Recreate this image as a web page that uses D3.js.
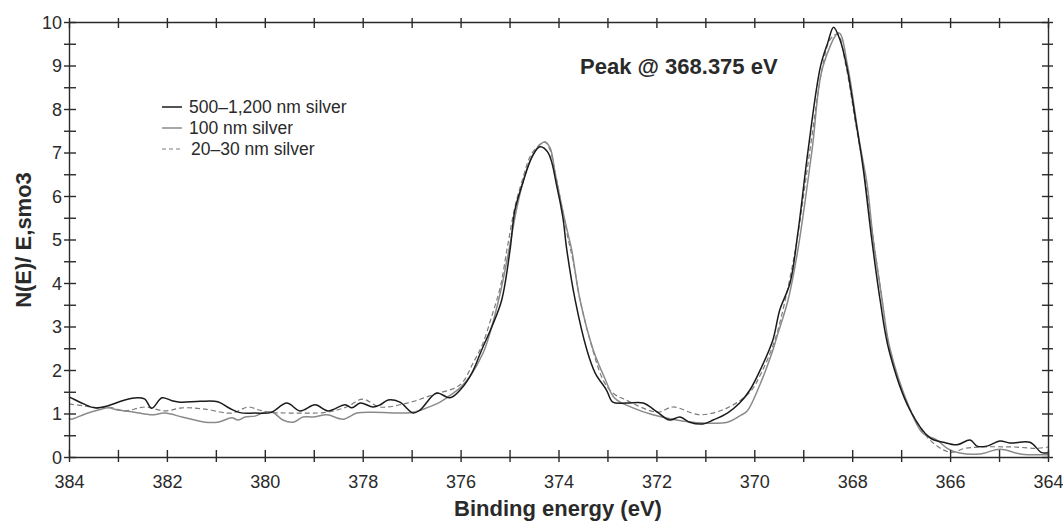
<!DOCTYPE html>
<html>
<head>
<meta charset="utf-8">
<script src="https://cdn.jsdelivr.net/npm/d3@7"></script>
<style>
  body { margin: 0; background: #fff; }
  svg { font-family: "Liberation Sans", Arial, sans-serif; }
  .axis path, .axis line { stroke: #2a2a2a; stroke-width: 1.4; }
  .axis text { font-size: 18px; fill: #2a2a2a; }
</style>
</head>
<body>
<div id="chart"></div>
<script>
// XPS Ag 3d spectra: [binding energy (eV), N(E)]
const seriesNames = ["500–1,200 nm silver", "100 nm silver", "20–30 nm silver"]

const silver500 = [
  [384.00, 1.38], [383.96, 1.36], [383.70, 1.22], [383.47, 1.13], [383.20, 1.18],
  [382.86, 1.31], [382.61, 1.36], [382.45, 1.33], [382.31, 1.12], [382.10, 1.36],
  [381.91, 1.30], [381.73, 1.26], [381.32, 1.28], [380.96, 1.27], [380.72, 1.12],
  [380.51, 1.02], [380.20, 1.01], [379.88, 1.02], [379.55, 1.24], [379.28, 1.06],
  [378.97, 1.20], [378.71, 1.06], [378.36, 1.20], [378.22, 1.13], [378.05, 1.24],
  [377.79, 1.15], [377.64, 1.20], [377.48, 1.31], [377.24, 1.26], [376.97, 1.01],
  [376.83, 1.08], [376.49, 1.47], [376.22, 1.36], [376.01, 1.54], [375.77, 1.93],
  [375.57, 2.46], [375.36, 3.00], [375.16, 3.61], [374.99, 4.76], [374.89, 5.68],
  [374.73, 6.30], [374.54, 6.90], [374.38, 7.13], [374.21, 6.99], [374.03, 6.20],
  [373.91, 5.50], [373.83, 4.76], [373.66, 3.61], [373.42, 2.46], [373.25, 1.93],
  [373.02, 1.54], [372.89, 1.26], [372.60, 1.24], [372.27, 1.24], [371.98, 1.03],
  [371.73, 0.85], [371.52, 0.92], [371.32, 0.80], [371.05, 0.76], [370.84, 0.85],
  [370.55, 1.01], [370.30, 1.24], [370.09, 1.54], [369.85, 2.07], [369.62, 2.69],
  [369.48, 3.38], [369.27, 4.00], [369.11, 5.15], [368.90, 7.06], [368.65, 8.97],
  [368.50, 9.52], [368.38, 9.88], [368.25, 9.59], [368.11, 8.97], [367.94, 7.82],
  [367.78, 6.67], [367.60, 5.00], [367.43, 3.61], [367.25, 2.46], [366.82, 1.08],
  [366.41, 0.44], [366.14, 0.34], [365.86, 0.28], [365.59, 0.39], [365.45, 0.25],
  [365.25, 0.25], [364.98, 0.37], [364.78, 0.32], [364.37, 0.34], [364.13, 0.10],
  [364.00, 0.10]
]

const silver100 = [
  [384.00, 0.90], [383.96, 0.87], [383.67, 0.99], [383.40, 1.08], [383.20, 1.13],
  [383.00, 1.08], [382.66, 1.03], [382.31, 0.97], [382.04, 1.01], [381.69, 0.92],
  [381.22, 0.80], [380.96, 0.80], [380.67, 0.90], [380.55, 0.85], [380.40, 0.92],
  [380.20, 0.94], [380.00, 1.03], [379.84, 1.03], [379.63, 0.85], [379.42, 0.80],
  [379.22, 0.92], [379.01, 0.92], [378.73, 0.97], [378.40, 0.87], [378.12, 1.01],
  [377.79, 1.03], [377.38, 1.01], [376.97, 1.03], [376.69, 1.13], [376.42, 1.26],
  [376.15, 1.47], [376.01, 1.59], [375.81, 1.85], [375.54, 2.39], [375.40, 2.85],
  [375.19, 3.77], [375.00, 4.83], [374.83, 5.84], [374.63, 6.67], [374.44, 7.10],
  [374.28, 7.24], [374.17, 7.10], [374.07, 6.53], [373.93, 5.75], [373.80, 5.10],
  [373.73, 4.76], [373.56, 3.61], [373.29, 2.46], [373.05, 1.80], [372.85, 1.35],
  [372.48, 1.13], [372.07, 0.97], [371.59, 0.85], [371.05, 0.78], [370.55, 0.80],
  [370.29, 0.95], [370.15, 1.05], [369.89, 1.65], [369.62, 2.46], [369.54, 2.76],
  [369.31, 3.61], [369.11, 4.76], [368.82, 7.06], [368.60, 8.97], [368.27, 9.75],
  [368.09, 8.97], [367.86, 7.30], [367.70, 6.30], [367.57, 5.00], [367.40, 3.70],
  [367.23, 2.50], [366.82, 1.10], [366.56, 0.55], [366.27, 0.39], [366.06, 0.20],
  [365.80, 0.09], [365.39, 0.07], [364.98, 0.18], [364.57, 0.07], [364.00, 0.05]
]

const silver20 = [
  [384.00, 1.22], [383.67, 1.17], [383.40, 1.13], [383.20, 1.15], [382.86, 1.06],
  [382.45, 1.15], [382.04, 1.06], [381.69, 1.13], [381.22, 1.10], [380.67, 1.01],
  [380.34, 1.15], [380.12, 1.08], [379.91, 1.03], [379.42, 1.01], [378.73, 1.03],
  [378.33, 1.15], [378.00, 1.33], [377.65, 1.15], [377.09, 1.24], [376.57, 1.43],
  [376.01, 1.66], [375.75, 2.15], [375.55, 2.60], [375.36, 3.25], [375.19, 3.90],
  [375.04, 4.85], [374.89, 5.75], [374.73, 6.40], [374.56, 6.95], [374.36, 7.20],
  [374.27, 7.24], [374.17, 7.05], [374.07, 6.55], [373.93, 5.75], [373.80, 5.00],
  [373.70, 4.50], [373.56, 3.61], [373.30, 2.46], [373.08, 1.75], [372.89, 1.47],
  [372.62, 1.31], [371.98, 1.03], [371.66, 1.15], [371.11, 0.97], [370.55, 1.13],
  [370.09, 1.49], [369.85, 1.95], [369.59, 2.65], [369.39, 3.50], [369.14, 4.90],
  [368.87, 7.00], [368.61, 8.95], [368.45, 9.60], [368.30, 9.72], [368.13, 9.00],
  [367.92, 7.60], [367.75, 6.50], [367.58, 5.10], [367.40, 3.70], [367.24, 2.50],
  [366.82, 1.10], [366.41, 0.39], [366.00, 0.11], [365.69, 0.20], [365.39, 0.23],
  [364.71, 0.23], [364.23, 0.20], [364.00, 0.23]
]

const xTicks = d3.range(364, 385, 1)
const yTicks = d3.range(0, 10.01, 0.5)
const peakNote = "Peak @ 368.375 eV"

const W = 1063, H = 525
const svg = d3.select("#chart").append("svg")
  .attr("width", W).attr("height", H)

const x = d3.scaleLinear().domain([384, 364]).range([69, 1048])
const y = d3.scaleLinear().domain([0, 10]).range([457, 22])

// curves first, axes drawn on top
const line = d3.line()
  .x(d => x(d[0]))
  .y(d => y(d[1]))
  .curve(d3.curveCatmullRom.alpha(0.5))

const styles = [
  { color: "#1b1b1b", width: 1.5, dash: null },
  { color: "#8a8a8a", width: 1.5, dash: null },
  { color: "#7a7a7a", width: 1.2, dash: "5,3" }
]
const allSeries = [silver500, silver100, silver20]

// draw dashed first so the solid ones sit over it
;[2, 1, 0].forEach(i => {
  svg.append("path")
    .datum(allSeries[i])
    .attr("fill", "none")
    .attr("stroke", styles[i].color)
    .attr("stroke-width", styles[i].width)
    .attr("stroke-dasharray", styles[i].dash)
    .attr("stroke-linejoin", "round")
    .attr("d", line)
})

// bottom axis, ticks cross the line
const gBottom = svg.append("g").attr("class", "axis")
  .attr("transform", "translate(0," + y(0) + ")")
  .call(d3.axisBottom(x).tickValues(xTicks).tickSize(-7).tickSizeOuter(0)
    .tickFormat(d => d % 2 === 0 ? d : ""))
gBottom.selectAll(".tick line").attr("y1", 5)
gBottom.selectAll(".tick text").attr("dy", 0).attr("y", 31)

// top axis
const gTop = svg.append("g").attr("class", "axis")
  .attr("transform", "translate(0," + y(10) + ")")
  .call(d3.axisTop(x).tickValues(xTicks).tickSize(-6).tickSizeOuter(0).tickFormat(""))
gTop.selectAll(".tick line").attr("y1", -4)

// left axis
const gLeft = svg.append("g").attr("class", "axis")
  .attr("transform", "translate(" + x(384) + ",0)")
  .call(d3.axisLeft(y).tickValues(yTicks).tickSize(-7).tickSizeOuter(0)
    .tickFormat(d => Number.isInteger(d) ? d : ""))
gLeft.selectAll(".tick line").attr("x1", -5)
gLeft.selectAll(".tick text").attr("x", -7).attr("dy", "0.36em")

// right axis
const gRight = svg.append("g").attr("class", "axis")
  .attr("transform", "translate(" + x(364) + ",0)")
  .call(d3.axisRight(y).tickValues(yTicks).tickSize(-6).tickSizeOuter(0).tickFormat(""))
gRight.selectAll(".tick line").attr("x1", 5)

// titles
svg.append("text")
  .attr("x", 558).attr("y", 516)
  .attr("text-anchor", "middle")
  .attr("font-size", 22).attr("font-weight", "bold").attr("fill", "#2a2a2a")
  .text("Binding energy (eV)")

svg.append("text")
  .attr("transform", "translate(31,240) rotate(-90)")
  .attr("text-anchor", "middle")
  .attr("font-size", 22).attr("font-weight", "bold").attr("fill", "#2a2a2a")
  .text("N(E)/ E,smo3")

svg.append("text")
  .attr("x", 580).attr("y", 74)
  .attr("font-size", 22).attr("font-weight", "bold").attr("fill", "#2a2a2a")
  .text(peakNote)

// legend
const legend = svg.append("g").attr("transform", "translate(162,107)")
seriesNames.forEach((name, i) => {
  const row = legend.append("g").attr("transform", "translate(0," + (i * 21) + ")")
  row.append("line")
    .attr("x1", 0).attr("x2", 20).attr("y1", 0).attr("y2", 0)
    .attr("stroke", styles[i].color)
    .attr("stroke-width", styles[i].width)
    .attr("stroke-dasharray", styles[i].dash ? "4,3" : null)
  row.append("text")
    .attr("x", i === 2 ? 29 : 27).attr("y", 0).attr("dy", "0.36em")
    .attr("font-size", 17.5).attr("fill", "#2a2a2a")
    .text(name)
})
</script>
</body>
</html>
